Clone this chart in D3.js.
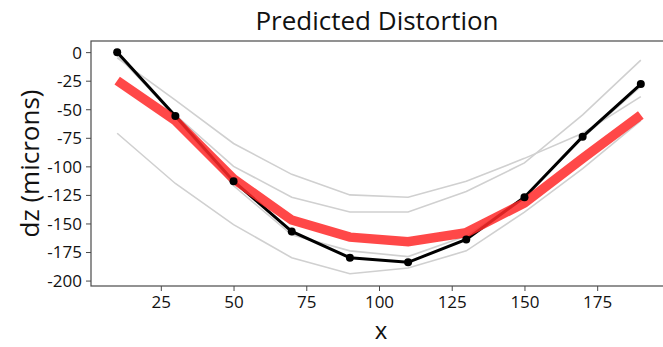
<!DOCTYPE html>
<html>
<head>
<meta charset="utf-8">
<script src="https://cdn.jsdelivr.net/npm/d3@7"></script>
<style>
  html, body { margin: 0; padding: 0; background: #fff; }
  svg { display: block; }
  text { font-family: "Open Sans", "DejaVu Sans", sans-serif; }
</style>
</head>
<body>
<svg id="chart" width="663" height="347"></svg>
<script>
// ---- data ----
const xValues = [10, 30, 50, 70, 90, 110, 130, 150, 170, 190];
const measured = [0, -56, -113, -157, -180, -184, -164, -127, -74, -28];
const predicted = [-25, -60, -111, -147, -162, -166, -158, -132, -93, -55];
const grayA = [-5, -42, -80, -107, -125, -127, -113, -93, -71, -39];
const grayB = [-3, -55, -100, -127, -140, -140, -122, -97, -55, -7];
const grayC = [-71, -115, -151, -180, -194, -189, -174, -140, -102, -60];
const grayD = [-2, -57, -117, -160, -174, -179, -161, -128, -75, -30];
const grayRuns = [grayA, grayB, grayC, grayD];
const xTicks = [25, 50, 75, 100, 125, 150, 175];
const yTicks = [0, -25, -50, -75, -100, -125, -150, -175, -200];
const titleText = "Predicted Distortion";
const xLabel = "x";
const yLabel = "dz (microns)";

// ---- layout ----
const svg = d3.select("#chart");
const pLeft = 91, pTop = 41, pBottom = 286, pRight = 667;
const x = d3.scaleLinear().domain([1, 199]).range([pLeft, pRight]);
const y = d3.scaleLinear().domain([-204.75, 9.75]).range([pBottom, pTop]);

const axisColor = "#4a4a4a";

svg.append("clipPath").attr("id", "clip")
  .append("rect").attr("x", pLeft).attr("y", pTop).attr("width", pRight - pLeft).attr("height", pBottom - pTop);

const plot = svg.append("g").attr("clip-path", "url(#clip)");

const line = d3.line().x((d, i) => x(xValues[i])).y(d => y(d));

grayRuns.forEach(run => {
  plot.append("path").datum(run).attr("d", line)
    .attr("fill", "none").attr("stroke", "#d0d0d0").attr("stroke-width", 1.6);
});

plot.append("path").datum(measured).attr("d", line)
  .attr("fill", "none").attr("stroke", "#000").attr("stroke-width", 3);

plot.append("path").datum(predicted).attr("d", line)
  .attr("fill", "none").attr("stroke", "#ff2a2a").attr("stroke-opacity", 0.86)
  .attr("stroke-width", 9.5);

plot.selectAll("circle.m").data(measured).enter().append("circle")
  .attr("cx", (d, i) => x(xValues[i])).attr("cy", d => y(d)).attr("r", 4).attr("fill", "#000");

const xAxis = svg.append("g").attr("transform", `translate(0,${pBottom})`)
  .call(d3.axisBottom(x).tickValues(xTicks).tickSize(5).tickPadding(3));
const yAxis = svg.append("g").attr("transform", `translate(${pLeft},0)`)
  .call(d3.axisLeft(y).tickValues(yTicks).tickSize(5).tickPadding(4).tickFormat(d3.format("d")));
[xAxis, yAxis].forEach(g => {
  g.select(".domain").remove();
  g.selectAll("line").attr("stroke", axisColor).attr("stroke-width", 1);
  g.selectAll("text").attr("fill", "#111").style("font-size", "17px")
    .style("font-family", '"Open Sans", sans-serif');
});
xAxis.selectAll("text").attr("dy", "0.85em");
yAxis.selectAll("text").text(d => d === 0 ? "0" : "-" + Math.abs(d)).attr("dy", "0.35em");

svg.append("rect").attr("x", pLeft).attr("y", pTop).attr("width", pRight - pLeft).attr("height", pBottom - pTop)
  .attr("fill", "none").attr("stroke", axisColor).attr("stroke-width", 1.2);

svg.append("text").attr("x", 377).attr("y", 30).attr("text-anchor", "middle")
  .style("font-size", "26px").attr("fill", "#111").text(titleText);
svg.append("text").attr("x", 381).attr("y", 339).attr("text-anchor", "middle")
  .style("font-size", "24px").attr("fill", "#111").text(xLabel);
svg.append("text").attr("transform", `translate(39,${(pTop + pBottom) / 2}) rotate(-90)`)
  .attr("text-anchor", "middle").style("font-size", "26px").attr("fill", "#111").text(yLabel);
</script>
</body>
</html>
